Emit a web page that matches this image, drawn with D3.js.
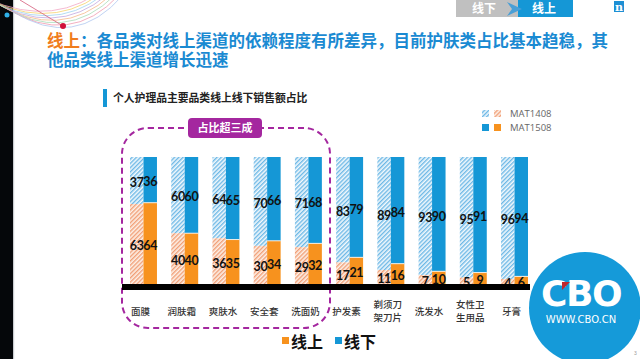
<!DOCTYPE html>
<html><head><meta charset="utf-8">
<script src="https://cdn.jsdelivr.net/npm/d3@7"></script>
<style>html,body{margin:0;padding:0;background:#fff;}svg{display:block;}</style>
</head><body>
<svg id="c" width="640" height="359"></svg>
<script>
const categories = ["面膜","润肤霜","爽肤水","安全套","洗面奶","护发素","剃须刀\n架刀片","洗发水","女性卫\n生用品","牙膏"];
const series = ["MAT1408","MAT1508"];
const online1408 = [63,40,36,30,29,17,11,7,5,4];
const offline1408 = [37,60,64,70,71,83,89,93,95,96];
const online1508 = [64,40,35,34,32,21,16,10,9,6];
const offline1508 = [36,60,65,66,68,79,84,90,91,94];
const bottomLegend = ["线上","线下"];

const svg = d3.select("#c");
const CJK = "'Noto Sans CJK SC','Microsoft YaHei',sans-serif";
const NUM = "Lato,'Open Sans',sans-serif";
const BLUE = "#1597d6", ORANGE = "#f7921e", PURPLE = "#a4279f";

// patterns
const defs = svg.append("defs");
function hatch(id, bg, fg){
  const p = defs.append("pattern").attr("id", id).attr("patternUnits","userSpaceOnUse")
    .attr("width",3).attr("height",3).attr("patternTransform","rotate(45)");
  p.append("rect").attr("width",3).attr("height",3).attr("fill",bg);
  p.append("rect").attr("width",1.4).attr("height",3).attr("fill",fg);
}
hatch("hb","#f3f9fd","#6db8e6");
hatch("ho","#fdf1e8","#f19f77");

// left dark strip
svg.append("rect").attr("x",0).attr("y",0).attr("width",13).attr("height",359).attr("fill","#05070a");
svg.append("rect").attr("x",13).attr("y",0).attr("width",1.2).attr("height",359).attr("fill","#c9ccd0");

// top-left decorative arcs
const arcCols = ["#f2a7c4","#f6d36b","#9fd3ef","#c3a8e0","#f5b98a","#a8dcb8","#f09ab0","#b0c8f0"];
arcCols.forEach((c,i)=>{
  svg.append("path").attr("d",`M ${-30+i*6} ${-10+i*3} Q ${40+i*5} ${30+i*3} ${95+i*4} ${-5}`)
    .attr("fill","none").attr("stroke",c).attr("stroke-width",0.8);
});
svg.append("line").attr("x1",20).attr("y1",0).attr("x2",63).attr("y2",26).attr("stroke","#d65a7a").attr("stroke-width",0.8);
svg.append("circle").attr("cx",63).attr("cy",26).attr("r",3).attr("fill","#d0103a");
svg.append("circle").attr("cx",7).attr("cy",15).attr("r",2.5).attr("fill","#2fb0e8");

// top right nav
svg.append("rect").attr("x",456).attr("y",0).attr("width",62).attr("height",17).attr("fill","#c0c0c0");
svg.append("rect").attr("x",518).attr("y",0).attr("width",55).attr("height",17).attr("fill",BLUE);
svg.append("path").attr("d","M 507 2 L 522 9 L 507 16 L 512 9 Z").attr("fill","#4a9fd6");
svg.append("text").attr("x",484).attr("y",13).attr("text-anchor","middle").attr("fill","#fff")
  .attr("font-family",CJK).attr("font-size",12).attr("font-weight",700).text("线下");
svg.append("text").attr("x",544).attr("y",13).attr("text-anchor","middle").attr("fill","#fff")
  .attr("font-family",CJK).attr("font-size",12).attr("font-weight",700).text("线上");
svg.append("rect").attr("x",614).attr("y",1).attr("width",10).attr("height",11).attr("fill","#1d8fd4");
svg.append("text").attr("x",619).attr("y",10.5).attr("text-anchor","middle").attr("fill","#fff")
  .attr("font-family","'DejaVu Serif',serif").attr("font-size",11).attr("font-weight",700).text("n");

// title
const TS = 16.5;
svg.append("text").attr("x",47).attr("y",47).attr("font-family",CJK).attr("font-size",TS).attr("font-weight",700)
  .attr("fill","#f07d1e").text("线上");
svg.append("text").attr("x",47+2*TS).attr("y",47).attr("font-family",CJK).attr("font-size",TS).attr("font-weight",700)
  .attr("fill","#1a8ad2").text("：各品类对线上渠道的依赖程度有所差异，目前护肤类占比基本趋稳，其");
svg.append("text").attr("x",47).attr("y",66).attr("font-family",CJK).attr("font-size",TS).attr("font-weight",700)
  .attr("fill","#1a8ad2").text("他品类线上渠道增长迅速");

// subtitle
svg.append("rect").attr("x",103).attr("y",89).attr("width",4).attr("height",18).attr("fill",BLUE);
svg.append("text").attr("x",113).attr("y",102).attr("font-family",CJK).attr("font-size",10.8).attr("font-weight",700)
  .attr("fill","#222").text("个人护理品主要品类线上线下销售额占比");

// scales
const x = d3.scaleBand().domain(categories).range([130,528]).paddingInner(0.346).paddingOuter(0);
const xs = d3.scaleBand().domain(series).range([0,x.bandwidth()]);
const y = d3.scaleLinear().domain([0,100]).range([284,157]);

const rows = categories.map((c,i)=>({cat:c, vals:[
  {s:"MAT1408", on:online1408[i], off:offline1408[i]},
  {s:"MAT1508", on:online1508[i], off:offline1508[i]}]}));

// dashed highlight box
svg.append("rect").attr("x",122).attr("y",128).attr("width",208).attr("height",200).attr("rx",26).attr("ry",26)
  .attr("fill","none").attr("stroke",PURPLE).attr("stroke-width",2).attr("stroke-dasharray","6,4");

const g = svg.append("g");
rows.forEach(r=>{
  r.vals.forEach(v=>{
    const bx = x(r.cat)+xs(v.s), bw = xs.bandwidth();
    const hatched = v.s==="MAT1408";
    g.append("rect").attr("x",bx).attr("width",bw).attr("y",y(v.on+v.off)).attr("height",y(v.on)-y(v.on+v.off))
      .attr("fill", hatched?"url(#hb)":BLUE);
    g.append("rect").attr("x",bx).attr("width",bw).attr("y",y(v.on)).attr("height",y(0)-y(v.on))
      .attr("fill", hatched?"url(#ho)":ORANGE);
    if(!hatched){
      g.append("line").attr("x1",bx).attr("x2",bx+bw).attr("y1",y(v.on)).attr("y2",y(v.on)).attr("stroke","#fff").attr("stroke-width",0.8);
    }
  });
});
// labels
rows.forEach(r=>{
  r.vals.forEach(v=>{
    const cx = x(r.cat)+xs(v.s)+xs.bandwidth()/2;
    [[ (y(v.on)+y(v.on+v.off))/2, v.off],[(y(0)+y(v.on))/2, v.on]].forEach(([cy,val])=>{
      g.append("text").attr("x",cx).attr("y",cy+2).attr("dy","0.35em").attr("text-anchor","middle")
        .attr("font-family",NUM).attr("font-size",12.5).attr("letter-spacing",-0.3).attr("font-weight",700).attr("fill","#111").text(val);
    });
  });
});

// badge
svg.append("rect").attr("x",188).attr("y",118).attr("width",74).attr("height",20).attr("rx",4).attr("fill",PURPLE);
svg.append("text").attr("x",225).attr("y",132).attr("text-anchor","middle").attr("fill","#fff")
  .attr("font-family",CJK).attr("font-size",11).attr("font-weight",700).text("占比超三成");

// axis
svg.append("rect").attr("x",x.range()[0]-8).attr("y",284).attr("width",x.range()[1]-x.range()[0]+10).attr("height",6).attr("fill","#000");
const axis = svg.append("g").attr("transform","translate(-3,0)");
categories.forEach(c=>{
  const lines = c.split("\n");
  const cx = x(c)+x.bandwidth()/2;
  lines.forEach((l,i)=>{
    axis.append("text").attr("text-anchor","middle").attr("font-family",CJK).attr("font-size",9.5)
      .attr("font-weight",500).attr("fill","#333")
      .attr("x",cx).attr("y", lines.length===1 ? 315 : 308+i*13).text(l);
  });
});

// top-right legend
const lg = svg.append("g");
series.forEach((s,i)=>{
  const yy = 110+i*14;
  lg.append("rect").attr("x",482).attr("y",yy).attr("width",7).attr("height",7).attr("fill", i===0?"url(#hb)":BLUE);
  lg.append("rect").attr("x",494).attr("y",yy).attr("width",7).attr("height",7).attr("fill", i===0?"url(#ho)":ORANGE);
  lg.append("text").attr("x",510).attr("y",yy+6.5).attr("font-family","'Open Sans',sans-serif").attr("font-size",9.5)
    .attr("fill","#666").text(s);
});

// bottom legend
const bl = [[282,ORANGE],[335,BLUE]];
bottomLegend.forEach((t,i)=>{
  svg.append("rect").attr("x",bl[i][0]).attr("y",337).attr("width",7).attr("height",7).attr("fill",bl[i][1]);
  svg.append("text").attr("x",bl[i][0]+9).attr("y",348).attr("font-family",CJK).attr("font-size",16).attr("font-weight",700)
    .attr("fill","#111").text(t);
});

// CBO logo
svg.append("circle").attr("cx",585).attr("cy",308).attr("r",56).attr("fill","#159ad9");
svg.append("text").attr("x",581).attr("y",306).attr("text-anchor","middle").attr("font-family","'DejaVu Sans',sans-serif")
  .attr("font-size",36).attr("font-weight",700).attr("fill","#fff").attr("letter-spacing",-1.5).text("CBO");
svg.append("path").attr("d","M 562 282 L 570 282 L 562 290 Z").attr("fill","#c0272d");
svg.append("text").attr("x",581).attr("y",323).attr("text-anchor","middle").attr("font-family","'DejaVu Sans',sans-serif")
  .attr("font-size",10).attr("fill","#fff").text("WWW.CBO.CN");
svg.append("text").attr("x",634).attr("y",355).attr("font-family","sans-serif").attr("font-size",5).attr("fill","#999").text("3");
</script>
</body></html>
